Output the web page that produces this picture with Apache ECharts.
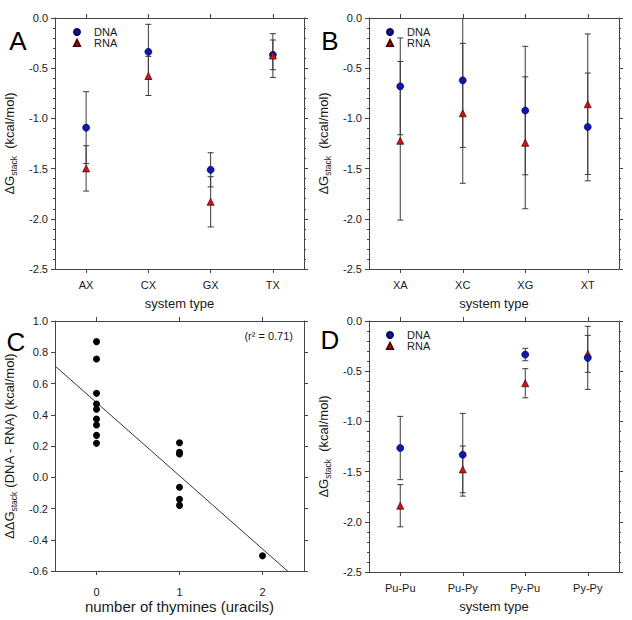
<!DOCTYPE html>
<html><head><meta charset="utf-8">
<script src="https://cdn.jsdelivr.net/npm/echarts@6/dist/echarts.min.js"></script>
<style>html,body{margin:0;padding:0;background:#fff}#c{width:632px;height:620px}</style>
</head><body><div id="c"></div>
<script>
// ---------- Panel A: X = first base ----------
const catsA = ['AX', 'CX', 'GX', 'TX'];
const dnaA = [-1.092, -0.337, -1.512, -0.367];
const dnaErrA = [0.358, 0.274, 0.170, 0.148];
const rnaA = [-1.498, -0.577, -1.831, -0.374];
const rnaErrA = [0.226, 0.195, 0.250, 0.218];

// ---------- Panel B: X = second base ----------
const catsB = ['XA', 'XC', 'XG', 'XT'];
const dnaB = [-0.681, -0.621, -0.922, -1.085];
const dnaErrB = [0.482, 0.668, 0.640, 0.537];
const rnaB = [-1.223, -0.949, -1.243, -0.859];
const rnaErrB = [0.790, 0.697, 0.657, 0.700];

// ---------- Panel C: DNA - RNA vs number of thymines ----------
const thymineCount = [0, 0, 0, 0, 0, 0, 0, 0, 0, 1, 1, 1, 1, 1, 1, 2];
const ddG = [0.868, 0.757, 0.537, 0.469, 0.435, 0.373, 0.334, 0.268, 0.217,
             0.221, 0.160, 0.149, -0.064, -0.141, -0.180, -0.503];
const thymineTicks = [0, 1, 2];
const r2Label = '(r\u00B2 = 0.71)';

// ---------- Panel D: purine / pyrimidine ----------
const catsD = ['Pu-Pu', 'Pu-Py', 'Py-Pu', 'Py-Py'];
const dnaD = [-1.265, -1.332, -0.334, -0.367];
const dnaErrD = [0.315, 0.412, 0.062, 0.314];
const rnaD = [-1.840, -1.478, -0.620, -0.327];
const rnaErrD = [0.210, 0.233, 0.145, 0.184];

const panelLetters = ['A', 'B', 'C', 'D'];

// ---------- styling ----------
const FONT = '"Liberation Sans", Arial, Helvetica, sans-serif';
const AX = '#454545';
const TXT = '#1a1a1a';
const ERR = '#3a3a3a';
const lineStyle = { color: AX, width: 1 };

// least-squares fit for panel C
const n = ddG.length;
const mx = thymineCount.reduce((a, b) => a + b, 0) / n;
const my = ddG.reduce((a, b) => a + b, 0) / n;
let sxy = 0, sxx = 0;
for (let i = 0; i < n; i++) { sxy += (thymineCount[i] - mx) * (ddG[i] - my); sxx += (thymineCount[i] - mx) ** 2; }
const slope = sxy / sxx;
const intercept = my - slope * mx;
const cXMin = -0.5, cXMax = 2.5;

const fmt1 = v => (Math.abs(v) < 1e-9 ? '0.0' : v.toFixed(1));

const grids = [
  { left: 55, top: 18, width: 249, height: 251 },
  { left: 369, top: 18, width: 250, height: 251 },
  { left: 55, top: 321, width: 249, height: 250 },
  { left: 369, top: 321, width: 250, height: 251 }
];

const yNameRich = {
  n: { fontSize: 13, fontFamily: FONT, color: TXT },
  s: { fontSize: 8.5, fontFamily: FONT, color: TXT, verticalAlign: 'bottom', lineHeight: 17 }
};

function catXAxes(g, cats, labelMargin) {
  return [
    {
      type: 'category', gridIndex: g, data: cats, position: 'bottom', boundaryGap: true,
      axisLine: { show: true, onZero: false, lineStyle },
      axisTick: { show: true, alignWithLabel: true, length: 4, lineStyle },
      axisLabel: { margin: labelMargin, fontSize: 11, color: TXT, fontFamily: FONT },
      name: 'system type', nameLocation: 'middle', nameGap: 28,
      nameTextStyle: { fontSize: 13, color: TXT, fontFamily: FONT },
      splitLine: { show: false }
    },
    {
      type: 'category', gridIndex: g, data: cats, position: 'top', boundaryGap: true,
      axisLine: { show: true, onZero: false, lineStyle },
      axisTick: { show: true, alignWithLabel: true, length: 4, lineStyle },
      axisLabel: { show: false }, splitLine: { show: false }
    }
  ];
}

function valYAxes(g, min, max, interval, minorSplit, name) {
  const common = {
    type: 'value', gridIndex: g, min, max, interval,
    axisLine: { show: true, onZero: false, lineStyle },
    axisTick: { show: true, length: 4, lineStyle },
    minorTick: { show: minorSplit > 0, splitNumber: minorSplit || 5, length: 2, lineStyle },
    splitLine: { show: false }, minorSplitLine: { show: false }
  };
  return [
    Object.assign({}, common, {
      position: 'left',
      axisLabel: { formatter: fmt1, margin: 7, fontSize: 11, color: TXT, fontFamily: FONT },
      name, nameLocation: 'middle', nameRotate: 90, nameGap: 37,
      nameTextStyle: { fontSize: 13, color: TXT, fontFamily: FONT, rich: yNameRich }
    }),
    Object.assign({}, common, { position: 'right', axisLabel: { show: false } })
  ];
}

function errRender(params, api) {
  const cs = params.coordSys;
  const x = api.value(0), m = api.value(1), e = api.value(2);
  const pt = api.coord([x, m + e]);
  const pb = api.coord([x, m - e]);
  const yMin = cs.y, yMax = cs.y + cs.height;
  const hw = 3;
  const style = { stroke: ERR, lineWidth: 1 };
  const children = [];
  children.push({ type: 'line', shape: { x1: pt[0], y1: Math.max(pt[1], yMin), x2: pb[0], y2: Math.min(pb[1], yMax) }, style });
  if (pt[1] >= yMin) children.push({ type: 'line', shape: { x1: pt[0] - hw, y1: pt[1], x2: pt[0] + hw, y2: pt[1] }, style });
  if (pb[1] <= yMax) children.push({ type: 'line', shape: { x1: pb[0] - hw, y1: pb[1], x2: pb[0] + hw, y2: pb[1] }, style });
  return { type: 'group', children };
}

function errSeries(ai, means, errs) {
  return {
    type: 'custom', xAxisIndex: ai, yAxisIndex: ai, silent: true, z: 2,
    data: means.map((m, i) => [i, m, errs[i]]),
    encode: { x: 0, y: 1 }, renderItem: errRender
  };
}
const dnaStyle = { color: '#0f17b0', borderColor: '#05084f', borderWidth: 0.7, opacity: 1 };
const rnaStyle = { color: '#c4161c', borderColor: '#520000', borderWidth: 0.7, opacity: 1 };
function dnaSeries(ai, vals) {
  return {
    type: 'scatter', name: 'DNA', xAxisIndex: ai, yAxisIndex: ai, data: vals, z: 3,
    symbol: 'circle', symbolSize: 7, itemStyle: dnaStyle
  };
}
function rnaSeries(ai, vals) {
  return {
    type: 'scatter', name: 'RNA', xAxisIndex: ai, yAxisIndex: ai, data: vals, z: 4,
    symbol: 'triangle', symbolSize: 7, itemStyle: rnaStyle
  };
}

const dgName = '{n|\u0394G}{s|stack}{n|  (kcal/mol)}';
const ddgName = '{n|\u0394\u0394G}{s|stack}{n| (DNA - RNA) (kcal/mol)}';

const xAxes = [].concat(
  catXAxes(0, catsA, 10),
  catXAxes(1, catsB, 10),
  [
    {
      type: 'value', gridIndex: 2, min: cXMin, max: cXMax, position: 'bottom',
      axisLine: { show: true, onZero: false, lineStyle },
      axisTick: { show: true, length: 4, lineStyle, customValues: thymineTicks },
      axisLabel: { margin: 15, fontSize: 11, color: TXT, fontFamily: FONT, customValues: thymineTicks, formatter: v => String(v) },
      name: 'number of thymines (uracils)', nameLocation: 'middle', nameGap: 28,
      nameTextStyle: { fontSize: 15, color: TXT, fontFamily: FONT },
      splitLine: { show: false }
    },
    {
      type: 'value', gridIndex: 2, min: cXMin, max: cXMax, position: 'top',
      axisLine: { show: true, onZero: false, lineStyle },
      axisTick: { show: true, length: 4, lineStyle, customValues: thymineTicks },
      axisLabel: { show: false }, splitLine: { show: false }
    }
  ],
  catXAxes(3, catsD, 10)
);

const yAxes = [].concat(
  valYAxes(0, -2.5, 0, 0.5, 5, dgName),
  valYAxes(1, -2.5, 0, 0.5, 5, dgName),
  valYAxes(2, -0.6, 1.0, 0.2, 0, ddgName),
  valYAxes(3, -2.5, 0, 0.5, 5, dgName)
);

const series = [
  errSeries(0, dnaA, dnaErrA), errSeries(0, rnaA, rnaErrA), dnaSeries(0, dnaA), rnaSeries(0, rnaA),
  errSeries(2, dnaB, dnaErrB), errSeries(2, rnaB, rnaErrB), dnaSeries(2, dnaB), rnaSeries(2, rnaB),
  {
    type: 'line', xAxisIndex: 4, yAxisIndex: 4, symbol: 'none', clip: true, silent: true, z: 2,
    data: [[cXMin, intercept + slope * cXMin], [cXMax, intercept + slope * cXMax]],
    lineStyle: { color: '#333', width: 1 }
  },
  {
    type: 'scatter', xAxisIndex: 4, yAxisIndex: 4, symbol: 'circle', symbolSize: 7, z: 3,
    data: thymineCount.map((x, i) => [x, ddG[i]]),
    itemStyle: { color: '#000', opacity: 1 }
  },
  errSeries(6, dnaD, dnaErrD), errSeries(6, rnaD, rnaErrD), rnaSeries(6, rnaD), Object.assign(dnaSeries(6, dnaD), { z: 5 })
];

function legendAt(left, top) {
  return {
    orient: 'vertical', left, top, padding: 0, itemWidth: 6, itemHeight: 6, itemGap: 0,
    selectedMode: false, data: ['DNA', 'RNA'],
    textStyle: { fontSize: 11, lineHeight: 11, color: TXT, fontFamily: FONT, padding: [0, 0, 0, 9] }
  };
}

const letterPos = [[18, 41], [330, 41], [16, 342], [330, 340]];
const graphics = panelLetters.map((L, i) => ({
  type: 'text', x: letterPos[i][0], y: letterPos[i][1],
  style: { text: L, fontSize: 26, fontFamily: FONT, fill: '#000', align: 'center', verticalAlign: 'middle' }
}));
graphics.push({
  type: 'text', x: 293, y: 336,
  style: { text: r2Label, fontSize: 11, fontFamily: FONT, fill: TXT, align: 'right', verticalAlign: 'middle' }
});

const chart = echarts.init(document.getElementById('c'), null, { renderer: 'svg' });
chart.setOption({
  animation: false,
  backgroundColor: '#fff',
  textStyle: { fontFamily: FONT },
  grid: grids.map(g => Object.assign({ outerBoundsMode: 'none' }, g)),
  xAxis: xAxes,
  yAxis: yAxes,
  legend: [legendAt(73, 26.5), legendAt(386, 26.5), legendAt(386, 329.5)],
  series,
  graphic: graphics
});
</script></body></html>
